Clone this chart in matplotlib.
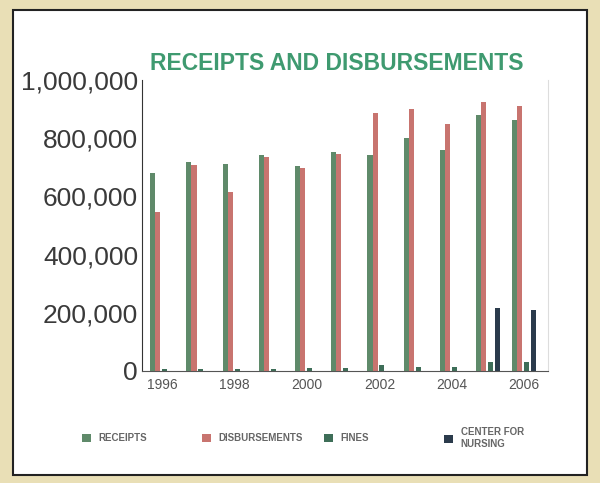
import numpy as np
import matplotlib
matplotlib.use("Agg")
import matplotlib.pyplot as plt
from matplotlib.patches import Rectangle

# Data
years = [1996, 1997, 1998, 1999, 2000, 2001, 2002, 2003, 2004, 2005, 2006]
receipts = [680000, 718000, 711000, 742000, 705000, 752000, 742000, 800000, 759000, 880000, 862000]
disbursements = [546000, 708000, 615000, 735000, 697000, 746000, 886000, 900000, 849000, 925000, 911000]
fines = [5000, 5000, 5000, 8000, 10000, 10000, 20000, 15000, 15000, 30000, 30000]
nursing = [0, 0, 0, 0, 0, 0, 0, 0, 0, 216000, 210000]
tick_years = [1996, 1998, 2000, 2002, 2004, 2006]
y_ticks = [0, 200000, 400000, 600000, 800000, 1000000]

plt.rcParams['font.family'] = ['Liberation Sans', 'DejaVu Sans']

fig = plt.figure(figsize=(6, 4.83), dpi=100)
fig.patch.set_facecolor('#e9dfb6')
# white panel with dark border
fig.patches.append(Rectangle((13 / 600, 1 - 475 / 483), 574 / 600, 465 / 483,
                             transform=fig.transFigure, facecolor='white',
                             edgecolor='#222222', linewidth=1.5, zorder=-10))

ax = fig.add_axes([0.237, 0.232, 0.676, 0.602])
ax.set_facecolor('white')

x = np.array(years, dtype=float)
w = 0.14
c_rec = '#5f8a6a'
c_dis = '#c8746f'
c_fin = '#3e6e58'
c_nur = '#2b3b4c'
b1 = ax.bar(x - 1.5 * w - 0.05, receipts, w, color=c_rec, label='RECEIPTS')
b2 = ax.bar(x - 0.5 * w - 0.05, disbursements, w, color=c_dis, label='DISBURSEMENTS')
b3 = ax.bar(x + 0.5 * w, fines, w, color=c_fin, label='FINES')
b4 = ax.bar(x + 1.5 * w + 0.05, nursing, w, color=c_nur, label='CENTER FOR\nNURSING')

ax.set_xlim(1995.45, 2006.65)
ax.set_ylim(0, 1000000)
ax.set_yticks(y_ticks)
ax.set_yticklabels(['{:,}'.format(v) for v in y_ticks], fontsize=19, color='#3a3a3a')
ax.set_xticks(tick_years)
ax.set_xticklabels([str(t) for t in tick_years], fontsize=10, color='#555555')
ax.tick_params(length=0, pad=5)
ax.tick_params(axis='y', pad=3)

ax.spines['top'].set_visible(False)
ax.spines['left'].set_color('#333333')
ax.spines['bottom'].set_color('#555555')
ax.spines['right'].set_color('#dddddd')

fig.text(0.562, 1 - 63 / 483, 'RECEIPTS AND DISBURSEMENTS', ha='center', va='center',
         fontsize=16.5, fontweight='bold', color='#3f9a70')

# legend entries placed one by one, as in the original layout
leg_x = [82, 202, 324, 444]
for h, lx in zip([b1, b2, b3, b4], leg_x):
    fig.legend(handles=[h], loc='center left', bbox_to_anchor=(lx / 600, 1 - 438 / 483),
               frameon=False, handlelength=0.9, handleheight=0.9,
               handletextpad=0.8, borderpad=0, borderaxespad=0, labelcolor='#666666',
               prop={'weight': 'bold', 'size': 7})

fig.savefig('out.png', dpi=100, facecolor=fig.get_facecolor())
